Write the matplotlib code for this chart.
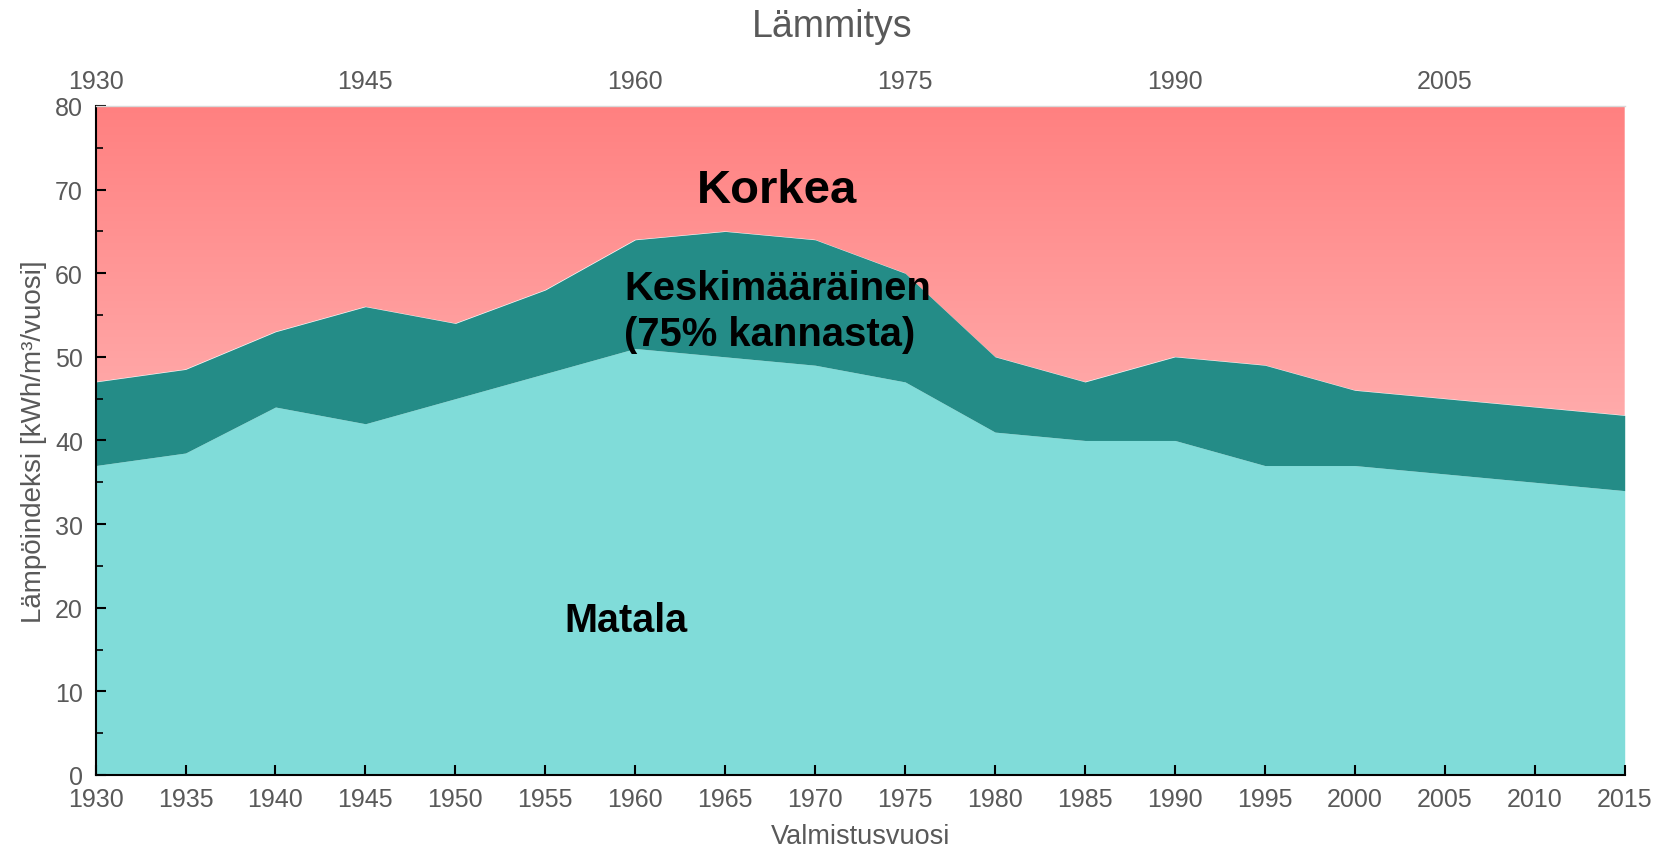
import numpy as np
import matplotlib
matplotlib.use("Agg")
import matplotlib.pyplot as plt
from matplotlib.colors import LinearSegmentedColormap
from matplotlib.patches import Polygon

years = [1930, 1935, 1940, 1945, 1950, 1955, 1960, 1965, 1970, 1975,
         1980, 1985, 1990, 1995, 2000, 2005, 2010, 2015]
matala = [37, 38.5, 44, 42, 45, 48, 51, 50, 49, 47,
          41, 40, 40, 37, 37, 36, 35, 34]
keski_top = [47, 48.5, 53, 56, 54, 58, 64, 65, 64, 60,
             50, 47, 50, 49, 46, 45, 44, 43]
korkea_top = 80
top_ticks = [1930, 1945, 1960, 1975, 1990, 2005]

plt.rcParams['font.family'] = ['Liberation Sans', 'DejaVu Sans']
gray = '#595959'

fig = plt.figure(figsize=(16.65, 8.53), dpi=100)
ax = fig.add_axes([0.0574, 0.0903, 0.9184, 0.7843])

x = np.array(years)
ax.fill_between(x, 0, matala, color='#80DCD9', lw=0)
ax.fill_between(x, matala, keski_top, color='#248C87', lw=0)

verts = list(zip(x, keski_top)) + [(x[-1], korkea_top), (x[0], korkea_top)]
poly = Polygon(verts, closed=True, facecolor='none', edgecolor='none',
               transform=ax.transData)
ax.add_patch(poly)

cmap = LinearSegmentedColormap.from_list('g', ['#FFB4B4', '#FF8080'])
grad = np.linspace(0, 1, 256).reshape(-1, 1)
im = ax.imshow(grad, extent=[1930, 2015, 35, 80], origin='lower',
               aspect='auto', cmap=cmap, zorder=0.5)
im.set_clip_path(poly)

ax.set_xlim(1930, 2015)
ax.set_ylim(0, 80)
ax.set_xticks(years)
ax.set_yticks(range(0, 81, 10))
ax.set_yticks(range(0, 81, 5), minor=True)
ax.tick_params(axis='both', direction='in', length=7, width=1.5,
               labelsize=18, labelcolor=gray, color='black')
ax.tick_params(axis='y', which='minor', direction='in', length=5, width=1.2)
ax.tick_params(axis='x', pad=9)
ax.tick_params(axis='y', pad=9)
for s in ['top', 'right']:
    ax.spines[s].set_visible(False)
for s in ['left', 'bottom']:
    ax.spines[s].set_linewidth(1.5)
    ax.spines[s].set_zorder(5)

ax.set_xlabel('Valmistusvuosi', fontsize=19.5, color=gray, labelpad=8)
ax.set_ylabel('Lämpöindeksi [kWh/m³/vuosi]', fontsize=20, color=gray, labelpad=6)

ax2 = ax.twiny()
ax2.set_xlim(1930, 2015)
ax2.set_xticks(top_ticks)
ax2.tick_params(axis='x', length=0, labelsize=18, labelcolor=gray, pad=9)
for s in ax2.spines.values():
    s.set_visible(False)
ax2.spines['top'].set_visible(True)
ax2.spines['top'].set_color('#D9D9D9')
ax2.spines['top'].set_linewidth(1)

fig.text(0.5, 0.968, 'Lämmitys', ha='center', va='center', fontsize=27, color=gray)

ax.text(1967.9, 70.0, 'Korkea', ha='center', va='center', fontsize=34,
        fontweight='bold', color='black')
ax.text(1959.4, 55.5, 'Keskimääräinen\n(75% kannasta)', ha='left', va='center',
        fontsize=28.8, fontweight='bold', color='black', linespacing=1.28)
ax.text(1959.5, 18.5, 'Matala', ha='center', va='center', fontsize=28.5,
        fontweight='bold', color='black')

fig.savefig('out.png', dpi=100)
